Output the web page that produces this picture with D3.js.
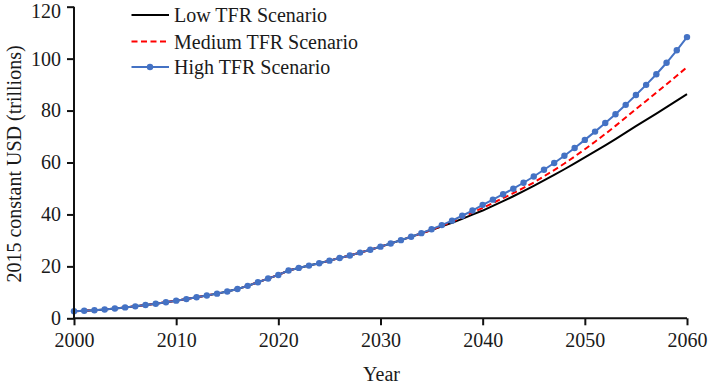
<!DOCTYPE html>
<html>
<head>
<meta charset="utf-8">
<script src="https://cdn.jsdelivr.net/npm/d3@7"></script>
<style>
  html, body { margin: 0; padding: 0; background: #fff; }
  svg { display: block; }
  svg text { font-family: "Liberation Serif", "Times New Roman", serif !important; fill: #1a1a1a; }
</style>
</head>
<body>
<svg id="chart" width="708" height="386"></svg>
<script>
const years = d3.range(2000, 2061);
const common = [2.7, 2.9, 3.1, 3.4, 3.8, 4.2, 4.6, 5.1, 5.6, 6.2,
  6.8, 7.4, 8.1, 8.8, 9.5, 10.3, 11.3, 12.5, 13.9, 15.3,
  16.7, 18.4, 19.4, 20.3, 21.2, 22.2, 23.2, 24.2, 25.3, 26.4,
  27.6, 28.8, 30.1, 31.4];
const lowTail = [32.7, 34.0, 35.4, 36.8, 38.3, 39.9, 41.5,
  43.3, 45.1, 47.0, 49.0, 51.0, 53.1, 55.2, 57.4, 59.7, 62.0,
  64.3, 66.6, 69.0, 71.5, 74.0, 76.4, 78.8, 81.3, 83.8, 86.3];
const mediumTail = [32.7, 34.1, 35.6, 37.2, 38.9, 40.7, 42.5,
  44.4, 46.3, 48.2, 50.2, 52.3, 54.7, 57.1, 59.6, 62.3, 65.1,
  68.0, 71.0, 74.1, 77.3, 80.6, 83.7, 86.9, 90.1, 93.4, 96.7];
const highTail = [32.8, 34.3, 35.9, 37.6, 39.5, 41.5, 43.7,
  45.7, 47.8, 49.9, 52.2, 54.6, 57.2, 59.8, 62.6, 65.6, 68.7,
  71.9, 75.2, 78.6, 82.2, 86.0, 89.9, 94.0, 98.4, 103.2, 108.3];
const lowTFR = common.concat(lowTail);
const mediumTFR = common.concat(mediumTail);
const highTFR = common.concat(highTail);
const xTicks = [2000, 2010, 2020, 2030, 2040, 2050, 2060];
const yTicks = [0, 20, 40, 60, 80, 100, 120];
const seriesNames = ["Low TFR Scenario", "Medium TFR Scenario", "High TFR Scenario"];

const FONT = "'Liberation Serif', 'Times New Roman', serif";
const svg = d3.select("#chart");
const x = d3.scaleLinear().domain([2000, 2060]).range([74, 687]);
const y = d3.scaleLinear().domain([0, 120]).range([318.3, 6.7]);

const series = [
  { name: seriesNames[0], values: lowTFR, color: "#000000", dash: null, markers: false },
  { name: seriesNames[1], values: mediumTFR, color: "#ff0000", dash: "6,3.5", markers: false },
  { name: seriesNames[2], values: highTFR, color: "#4472c4", dash: null, markers: true }
];

const line = d3.line().x(d => x(d[0])).y(d => y(d[1]));

series.forEach(s => {
  const pts = years.map((yr, i) => [yr, s.values[i]]);
  svg.append("path")
    .datum(pts)
    .attr("fill", "none")
    .attr("stroke", s.color)
    .attr("stroke-width", 2)
    .attr("stroke-dasharray", s.dash)
    .attr("d", line);
  if (s.markers) {
    svg.append("g").selectAll("circle").data(pts).join("circle")
      .attr("cx", d => x(d[0])).attr("cy", d => y(d[1]))
      .attr("r", 3.2).attr("fill", s.color);
  }
});

// Axes
const xAxis = svg.append("g").attr("transform", "translate(0,318.3)")
  .call(d3.axisBottom(x).tickValues(xTicks).tickFormat(d3.format("d")).tickSize(7).tickPadding(8).tickSizeOuter(0));
const yAxis = svg.append("g").attr("transform", "translate(74,0)")
  .call(d3.axisLeft(y).tickValues(yTicks).tickSize(7).tickPadding(6).tickSizeOuter(0));
[xAxis, yAxis].forEach(a => {
  a.attr("font-family", null).attr("font-size", null);
  a.select(".domain").attr("stroke", "#111").attr("stroke-width", 2);
  a.selectAll(".tick line").attr("stroke", "#111").attr("stroke-width", 2);
  a.selectAll(".tick text").style("font-size", "20px").style("font-family", FONT).attr("fill", "#1a1a1a");
});
xAxis.select(".domain").attr("d", `M${x(2000)},0H${x(2060)}`);
yAxis.select(".domain").attr("d", `M0,${y(0)}V${y(120)}`);
yAxis.selectAll(".tick text").filter(d => d === 120).attr("dy", "0.55em");

// Axis titles
svg.append("text").attr("x", 381.5).attr("y", 381).attr("text-anchor", "middle")
  .style("font-size", "20px").style("font-family", FONT).text("Year");
svg.append("text").attr("transform", "translate(21,164) rotate(-90)")
  .attr("text-anchor", "middle").style("font-size", "20px").style("font-family", FONT)
  .text("2015 constant USD (trillions)");

// Legend
const legendY = [15, 41.5, 67];
series.forEach((s, i) => {
  const g = svg.append("g");
  g.append("line").attr("x1", 131.5).attr("x2", 169).attr("y1", legendY[i]).attr("y2", legendY[i])
    .attr("stroke", s.color).attr("stroke-width", 2).attr("stroke-dasharray", s.dash);
  if (s.markers) {
    g.append("circle").attr("cx", 150).attr("cy", legendY[i]).attr("r", 3.2).attr("fill", s.color);
  }
  g.append("text").attr("x", 174).attr("y", legendY[i]).attr("dy", "0.35em")
    .style("font-size", "20px").style("font-family", FONT).text(s.name);
});
</script>
</body>
</html>
